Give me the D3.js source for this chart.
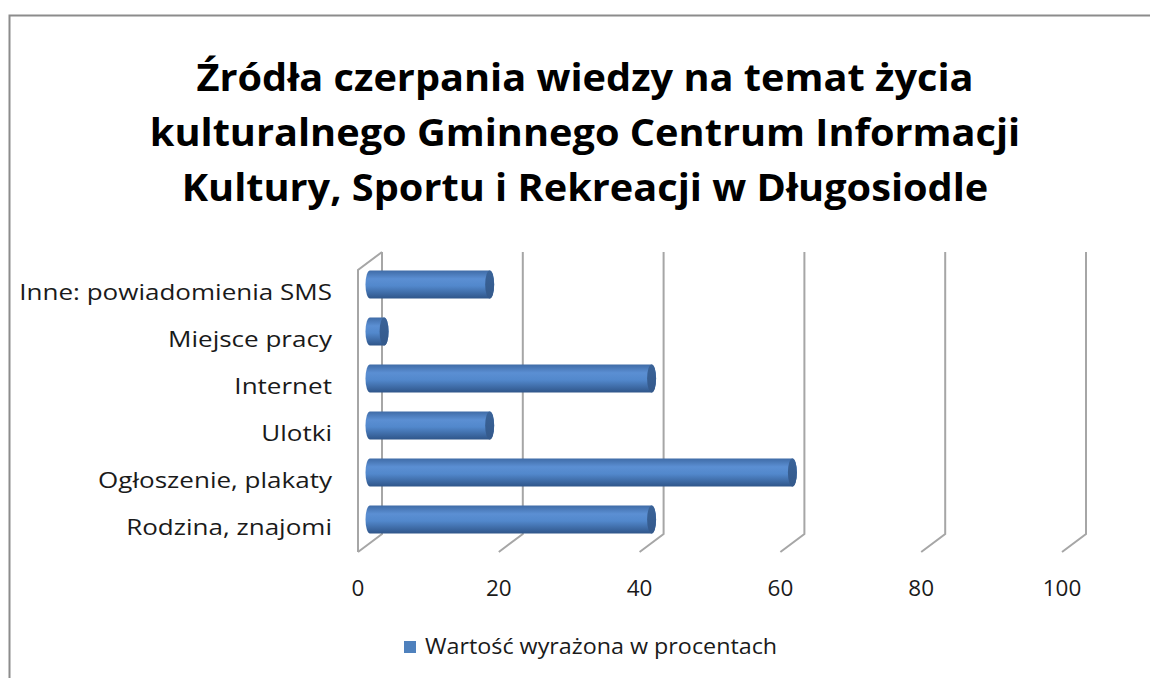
<!DOCTYPE html>
<html>
<head>
<meta charset="utf-8">
<script src="https://cdn.jsdelivr.net/npm/d3@7"></script>
<style>
  body { margin: 0; background: #fff; }
  text { font-family: "Open Sans", sans-serif; }
</style>
</head>
<body>
<div id="chart"></div>
<script>
(function(d3) {
  'use strict';

  var categories = ['Inne: powiadomienia SMS', 'Miejsce pracy', 'Internet', 'Ulotki', 'Ogłoszenie, plakaty', 'Rodzina, znajomi'];
  var values = [17, 2, 40, 17, 60, 40];
  var tickValues = [0, 20, 40, 60, 80, 100];
  var titleLines = ['Źródła czerpania wiedzy na temat życia', 'kulturalnego Gminnego Centrum Informacji', 'Kultury, Sportu i Rekreacji w Długosiodle'];
  var legendLabel = 'Wartość wyrażona w procentach';

  var width = 1150;
  var height = 678;
  // depth of the 3d floor
  var dx = -24, dy = 18;

  var svg = d3.select('#chart')
    .append('svg')
    .attr('width', width)
    .attr('height', height);

  // the original picture is stretched sideways, so text is widened a bit
  function stretch(sx) {
    return function(sel) {
      sel.attr('transform', function() {
        var t = d3.select(this);
        var px = +t.attr('x'), py = +t.attr('y');
        return 'translate(' + px + ',' + py + ') scale(' + sx + ',1) translate(' + (-px) + ',' + (-py) + ')';
      });
    };
  }

  svg.append('rect')
    .attr('x', 9.5).attr('y', 15.5)
    .attr('width', 1160).attr('height', 700)
    .attr('fill', 'none')
    .attr('stroke', '#8c8c8c')
    .attr('stroke-width', 2);

  svg.selectAll('.title')
    .data(titleLines)
    .enter()
    .append('text')
    .attr('class', 'title')
    .attr('x', 585)
    .attr('y', function(d, i) { return 91 + i * 55; })
    .attr('text-anchor', 'middle')
    .attr('font-size', 38)
    .attr('font-weight', 'bold')
    .attr('fill', '#000')
    .text(function(d) { return d; })
    .call(stretch(1.045));

  var x = d3.scaleLinear().domain([0, 100]).range([382, 1086]);
  var y = d3.scaleBand().domain(categories).range([252, 534]).paddingInner(0.4).paddingOuter(0.2);

  // back wall gridlines + floor edges
  var grid = svg.append('g')
    .attr('fill', 'none')
    .attr('stroke', '#a6a6a6')
    .attr('stroke-width', 2);

  grid.selectAll('path')
    .data(tickValues)
    .enter()
    .append('path')
    .attr('d', function(d) {
      var gx = x(d);
      return 'M' + gx + ',252 L' + gx + ',534 L' + (gx + dx) + ',' + (534 + dy);
    });

  // left side wall
  grid.append('path')
    .attr('d', 'M' + x(0) + ',252 L' + (x(0) + dx) + ',' + (252 + dy) + ' L' + (x(0) + dx) + ',' + (534 + dy));

  var defs = svg.append('defs');
  var body = defs.append('linearGradient')
    .attr('id', 'cyl').attr('x1', 0).attr('y1', 0).attr('x2', 0).attr('y2', 1);
  body.append('stop').attr('offset', '0%').attr('stop-color', '#3f6ba6');
  body.append('stop').attr('offset', '30%').attr('stop-color', '#5b8fd3');
  body.append('stop').attr('offset', '55%').attr('stop-color', '#5288cc');
  body.append('stop').attr('offset', '100%').attr('stop-color', '#2f5589');

  var cap = defs.append('linearGradient')
    .attr('id', 'cap').attr('x1', 0).attr('y1', 0).attr('x2', 0).attr('y2', 1);
  cap.append('stop').attr('offset', '0%').attr('stop-color', '#3a6398');
  cap.append('stop').attr('offset', '100%').attr('stop-color', '#34598b');

  var rx = 4.5;
  var ry = y.bandwidth() / 2;

  var bars = svg.append('g')
    .selectAll('g')
    .data(categories)
    .enter()
    .append('g');

  bars.append('path')
    .attr('fill', 'url(#cyl)')
    .attr('d', function(d, i) {
      var x0 = x(0) + dx / 2;
      var x1 = x(values[i]) + dx / 2;
      var cy = y(d) + y.bandwidth() / 2 + dy / 2;
      var t = cy - ry, b = cy + ry;
      return 'M' + x0 + ',' + t + ' L' + x1 + ',' + t +
        ' A' + rx + ',' + ry + ' 0 0 1 ' + x1 + ',' + b +
        ' L' + x0 + ',' + b +
        ' A' + rx + ',' + ry + ' 0 0 1 ' + x0 + ',' + t + 'Z';
    });

  bars.append('ellipse')
    .attr('fill', 'url(#cap)')
    .attr('cx', function(d, i) { return x(values[i]) + dx / 2; })
    .attr('cy', function(d) { return y(d) + y.bandwidth() / 2 + dy / 2; })
    .attr('rx', rx)
    .attr('ry', ry);

  // category labels on the front plane
  svg.selectAll('.cat')
    .data(categories)
    .enter()
    .append('text')
    .attr('class', 'cat')
    .attr('x', 332)
    .attr('y', function(d) { return y(d) + y.bandwidth() / 2 + dy + 7; })
    .attr('text-anchor', 'end')
    .attr('font-size', 21)
    .attr('fill', '#1a1a1a')
    .text(function(d) { return d; })
    .call(stretch(1.24));

  svg.selectAll('.tick')
    .data(tickValues)
    .enter()
    .append('text')
    .attr('class', 'tick')
    .attr('x', function(d) { return x(d) + dx; })
    .attr('y', 596)
    .attr('text-anchor', 'middle')
    .attr('font-size', 21)
    .attr('fill', '#1a1a1a')
    .text(function(d) { return d; })
    .call(stretch(1.07));

  svg.append('rect')
    .attr('x', 404).attr('y', 641)
    .attr('width', 12).attr('height', 12)
    .attr('fill', '#4f81bd');

  svg.append('text')
    .attr('x', 425)
    .attr('y', 654)
    .attr('font-size', 21)
    .attr('fill', '#1a1a1a')
    .text(legendLabel)
    .call(stretch(1.11));
})(window.d3);
</script>
</body>
</html>
